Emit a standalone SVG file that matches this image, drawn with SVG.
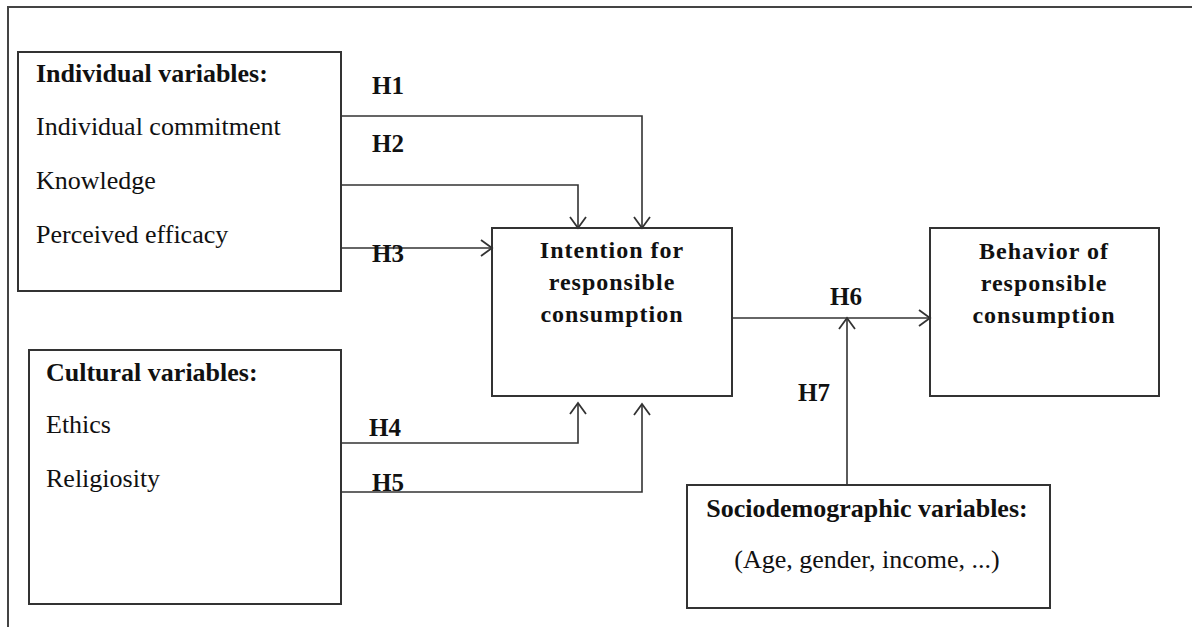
<svg xmlns="http://www.w3.org/2000/svg" width="1192" height="627" viewBox="0 0 1192 627">
<defs>
<style>
.box{fill:#fff;stroke:#333;stroke-width:2}
.frame{fill:none;stroke:#444;stroke-width:2}
.line{fill:none;stroke:#333;stroke-width:1.6}
.t{font-family:"Liberation Serif","Times New Roman",serif;font-size:26px;fill:#111}
.b{font-weight:bold}
.c{font-family:"Liberation Serif","Times New Roman",serif;font-size:24px;font-weight:bold;letter-spacing:1px;fill:#111;text-anchor:middle}
.h{font-family:"Liberation Serif","Times New Roman",serif;font-size:25px;font-weight:bold;fill:#111}
</style>
<marker id="arr" markerUnits="userSpaceOnUse" markerWidth="14" markerHeight="18" viewBox="0 0 14 18" refX="12" refY="9" orient="auto">
<path d="M1,1 L12,9 L1,17" fill="none" stroke="#333" stroke-width="1.8"/>
</marker>
</defs>
<rect width="1192" height="627" fill="#fff"/>
<path class="frame" d="M8,627 V7 H1192"/>

<g id="individual">
<rect class="box" x="18" y="52" width="323" height="239"/>
<text class="t b" x="36" y="82">Individual variables:</text>
<text class="t" x="36" y="135">Individual commitment</text>
<text class="t" x="36" y="189">Knowledge</text>
<text class="t" x="36" y="243">Perceived efficacy</text>
</g>

<g id="cultural">
<rect class="box" x="29" y="350" width="312" height="254"/>
<text class="t b" x="46" y="381">Cultural variables:</text>
<text class="t" x="46" y="433">Ethics</text>
<text class="t" x="46" y="487">Religiosity</text>
</g>

<g id="intention">
<rect class="box" x="492" y="228" width="240" height="168"/>
<text class="c" x="612" y="258">Intention for</text>
<text class="c" x="612" y="290">responsible</text>
<text class="c" x="612" y="322">consumption</text>
</g>

<g id="behavior">
<rect class="box" x="930" y="228" width="229" height="168"/>
<text class="c" x="1044" y="259">Behavior of</text>
<text class="c" x="1044" y="291">responsible</text>
<text class="c" x="1044" y="323">consumption</text>
</g>

<g id="sociodemographic">
<rect class="box" x="687" y="485" width="363" height="123"/>
<text class="t b" x="867" y="517" text-anchor="middle">Sociodemographic variables:</text>
<text class="t" x="867" y="568" text-anchor="middle">(Age, gender, income, ...)</text>
</g>

<g id="connectors">
<path class="line" d="M341,116 H642 V228" marker-end="url(#arr)"/>
<path class="line" d="M341,185 H578 V228" marker-end="url(#arr)"/>
<path class="line" d="M341,248 H492" marker-end="url(#arr)"/>
<path class="line" d="M341,443 H578 V403" marker-end="url(#arr)"/>
<path class="line" d="M341,492 H642 V404" marker-end="url(#arr)"/>
<path class="line" d="M732,318 H930" marker-end="url(#arr)"/>
<path class="line" d="M847,485 V318" marker-end="url(#arr)"/>
</g>

<g id="labels">
<text class="h" x="372" y="94">H1</text>
<text class="h" x="372" y="152">H2</text>
<text class="h" x="372" y="262">H3</text>
<text class="h" x="369" y="436">H4</text>
<text class="h" x="372" y="491">H5</text>
<text class="h" x="830" y="305">H6</text>
<text class="h" x="798" y="401">H7</text>
</g>
</svg>
